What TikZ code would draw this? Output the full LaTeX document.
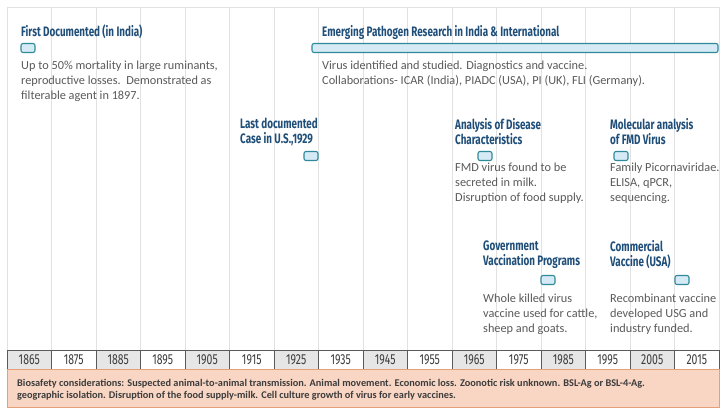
\documentclass[tikz,border=0pt]{standalone}
\usepackage{fontspec}
\setmainfont{Carlito}
\newfontfamily\ttlfont[FakeStretch=0.72]{Fira Sans}
\definecolor{ttlblue}{RGB}{31,78,121}
\definecolor{bodygray}{RGB}{89,89,89}
\definecolor{mkfill}{RGB}{214,234,246}
\definecolor{mkborder}{RGB}{46,138,153}
\definecolor{gridgray}{RGB}{225,225,225}
\definecolor{cellgray}{RGB}{231,230,230}
\definecolor{axisline}{RGB}{90,90,90}
\definecolor{peach}{RGB}{249,214,196}
\definecolor{peachline}{RGB}{228,160,120}
\definecolor{biotext}{RGB}{60,60,60}
\begin{document}
\begin{tikzpicture}[x=1pt,y=-1pt,
  ttl/.style={font=\ttlfont\bfseries\fontsize{13.7}{15}\selectfont, text=ttlblue, inner sep=0pt, anchor=north west, align=left},
  bodytxt/.style={font=\fontsize{12.3}{15}\selectfont, text=bodygray, inner sep=0pt, anchor=north west, align=left},
  marker/.style={draw=mkborder, fill=mkfill, line width=1.1pt, rounded corners=2pt, minimum width=14pt, minimum height=9pt, inner sep=0pt},
  gridline/.style={draw=gridgray, line width=0.8pt},
  yearcell/.style={draw=axisline, line width=0.7pt, minimum width=44.5pt, minimum height=19pt, inner sep=0pt, font=\ttlfont\fontsize{14.5}{14.5}\selectfont, text=biotext},
  biobox/.style={draw=peachline, fill=peach, line width=0.8pt}]
\useasboundingbox (0,0) rectangle (727,416);
% grid
\foreach \k in {0,...,16} {
  \draw[gridline] (7+44.5*\k,7) -- (7+44.5*\k,350);
}
\draw[gridline] (7,7) -- (719,7);
% axis cells
\foreach \k in {0,...,15} {
  \pgfmathtruncatemacro{\yr}{1865+10*\k}
  \pgfmathtruncatemacro{\ev}{mod(\k,2)}
  \ifnum\ev=0
    \node[yearcell, fill=cellgray] (c\k) at (7+44.5*\k+22.25,359.5) {\yr};
  \else
    \node[yearcell, fill=white] (c\k) at (7+44.5*\k+22.25,359.5) {\yr};
  \fi
}
% biosafety
\draw[biobox] (7,369) rectangle (719,407);
\node[anchor=west, inner sep=0pt, align=left, text=biotext, font=\bfseries\fontsize{10.3}{12}\selectfont] (bio) at (17,390)
 {Biosafety considerations: Suspected animal-to-animal transmission. Animal movement. Economic loss. Zoonotic risk unknown. BSL-Ag or BSL-4-Ag.\\
  geographic isolation. Disruption of the food supply-milk. Cell culture growth of virus for early vaccines.};
% markers
\node[marker] (m1) at (28,48) {};
\node[marker, minimum width=406pt] (m2) at (515,48) {};
\node[marker] (m3) at (311,156) {};
\node[marker] (m4) at (485,156) {};
\node[marker] (m5) at (621,156) {};
\node[marker] (m6) at (548,280) {};
\node[marker] (m7) at (682,280) {};
% titles
\node[ttl] (t1) at (21,25) {First Documented (in India)};
\node[ttl] (t2) at (322,25) {Emerging Pathogen Research in India \& International};
\node[ttl] (t3) at (240,118) {Last documented\\Case in U.S.,1929};
\node[ttl] (t4) at (455,118) {Analysis of Disease\\Characteristics};
\node[ttl] (t5) at (610,118) {Molecular analysis\\of FMD Virus};
\node[ttl] (t6) at (483,240.5) {Government\\Vaccination Programs};
\node[ttl] (t7) at (610,240.5) {Commercial\\Vaccine (USA)};
% bodies
\node[bodytxt] (b1) at (21,61) {Up to 50\% mortality in large ruminants,\\reproductive losses.\ \ Demonstrated as\\filterable agent in 1897.};
\node[bodytxt] (b2) at (322,61) {Virus identified and studied. Diagnostics and vaccine.\\Collaborations- ICAR (India), PIADC (USA), PI (UK), FLI (Germany).};
\node[bodytxt] (b4) at (455,163) {FMD virus found to be\\secreted in milk.\\Disruption of food supply.};
\node[bodytxt] (b5) at (610,163) {Family Picornaviridae.\\ELISA, qPCR,\\sequencing.};
\node[bodytxt] (b6) at (483,293.5) {Whole killed virus\\vaccine used for cattle,\\sheep and goats.};
\node[bodytxt] (b7) at (610,293.5) {Recombinant vaccine\\developed USG and\\industry funded.};
\end{tikzpicture}
\end{document}
